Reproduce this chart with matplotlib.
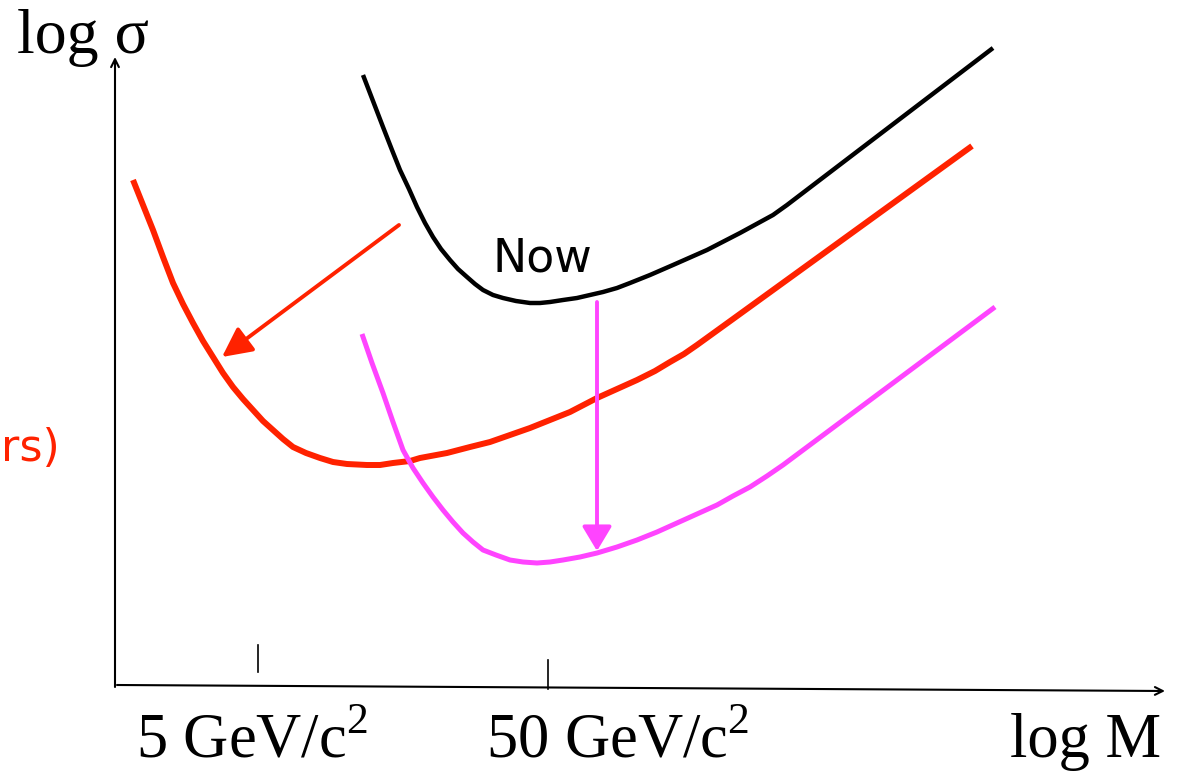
import matplotlib
matplotlib.use('Agg')
import matplotlib.pyplot as plt

# curve points (pixel-like units, y grows downward)
black_x = [363, 373, 383, 392, 400, 409, 417, 425, 433, 441, 450, 458, 467, 475, 483,
           493, 503, 516, 530, 540, 550, 563, 577, 590, 603, 617, 630, 650, 673, 707,
           740, 773, 787, 993]
black_y = [75, 101, 127, 150, 170, 189, 207, 223, 237, 249, 260, 269, 277, 284, 290,
           295, 298, 301, 303, 303, 302, 300, 298, 295, 292, 288, 283, 275, 265, 250,
           233, 215, 205, 48]

red_x = [133, 143, 153, 163, 173, 183, 193, 203, 213, 223, 233, 243, 253, 263, 273,
         283, 293, 306, 320, 333, 347, 367, 380, 393, 410, 420, 447, 470, 490, 510,
         530, 550, 570, 597, 617, 637, 655, 670, 684, 697, 733, 972]
red_y = [180, 205, 230, 257, 283, 304, 323, 341, 357, 373, 387, 399, 410, 421, 430,
         439, 447, 453, 458, 462, 464, 465, 465, 463, 461, 458, 453, 447, 442, 435,
         428, 420, 412, 398, 389, 380, 371, 362, 354, 345, 319, 146]

mag_x = [362, 372, 383, 393, 403, 413, 423, 433, 443, 453, 463, 473, 483, 496, 510,
         523, 537, 550, 563, 580, 597, 617, 637, 657, 677, 697, 717, 733, 750, 767,
         783, 995]
mag_y = [334, 363, 393, 422, 450, 468, 483, 497, 510, 522, 533, 542, 550, 555, 560,
         562, 563, 562, 560, 557, 553, 547, 540, 532, 523, 514, 505, 496, 487, 476,
         465, 307]

# arrows: (start, end)
red_arrow = ((399, 225), (222, 357))
mag_arrow = ((597, 302), (597, 551))

tick_labels = ["5 GeV/c$^2$", "50 GeV/c$^2$"]
tick_x = [258, 548]

plt.rcParams['mathtext.fontset'] = 'custom'
plt.rcParams['mathtext.rm'] = 'Liberation Serif'

RED = '#ff2200'
MAG = '#ff44ff'

fig = plt.figure(figsize=(11.8, 7.74), dpi=100)
ax = fig.add_axes([0, 0, 1, 1])
ax.set_xlim(0, 1180)
ax.set_ylim(774, 0)
ax.axis('off')

# axes arrows
ax.annotate("", xy=(115, 57), xytext=(115, 687),
            arrowprops=dict(arrowstyle='->', lw=1.5, color='black', mutation_scale=14,
                            shrinkA=0, shrinkB=0))
ax.annotate("", xy=(1165, 691), xytext=(117, 685),
            arrowprops=dict(arrowstyle='->', lw=1.5, color='black', mutation_scale=14,
                            shrinkA=0, shrinkB=0))

# tick marks
ax.plot([tick_x[0], tick_x[0]], [645, 672], color='black', lw=1.2)
ax.plot([tick_x[1], tick_x[1]], [660, 689], color='black', lw=1.2)

# curves
ax.plot(black_x, black_y, color='black', lw=3.2, solid_capstyle='butt', solid_joinstyle='round')
ax.plot(red_x, red_y, color=RED, lw=4.3, solid_capstyle='butt', solid_joinstyle='round')
ax.plot(mag_x, mag_y, color=MAG, lw=3.6, solid_capstyle='butt', solid_joinstyle='round')

# arrows between curves
ax.annotate("", xy=red_arrow[1], xytext=red_arrow[0],
            arrowprops=dict(arrowstyle='-|>,head_length=0.6,head_width=0.3', lw=2.8,
                            color=RED, mutation_scale=30, shrinkA=0, shrinkB=0))
ax.annotate("", xy=mag_arrow[1], xytext=mag_arrow[0],
            arrowprops=dict(arrowstyle='-|>,head_length=0.5,head_width=0.3', lw=2.8,
                            color=MAG, mutation_scale=30, shrinkA=0, shrinkB=0))

# texts
serif = 'Liberation Serif'
ax.text(17, 53, "log σ", fontsize=46, family=serif, ha='left', va='baseline')
ax.text(136, 757, tick_labels[0], fontsize=45, family=serif, ha='left', va='baseline')
ax.text(486, 757, tick_labels[1], fontsize=45, family=serif, ha='left', va='baseline')
ax.text(1161, 757, "log M", fontsize=45, family=serif, ha='right', va='baseline')
ax.text(542, 272, "Now", fontsize=33, family='DejaVu Sans', ha='center', va='baseline')
ax.text(1, 461, "rs)", fontsize=32, family='DejaVu Sans', color=RED,
        ha='left', va='baseline')

fig.savefig("out.png", dpi=100)
